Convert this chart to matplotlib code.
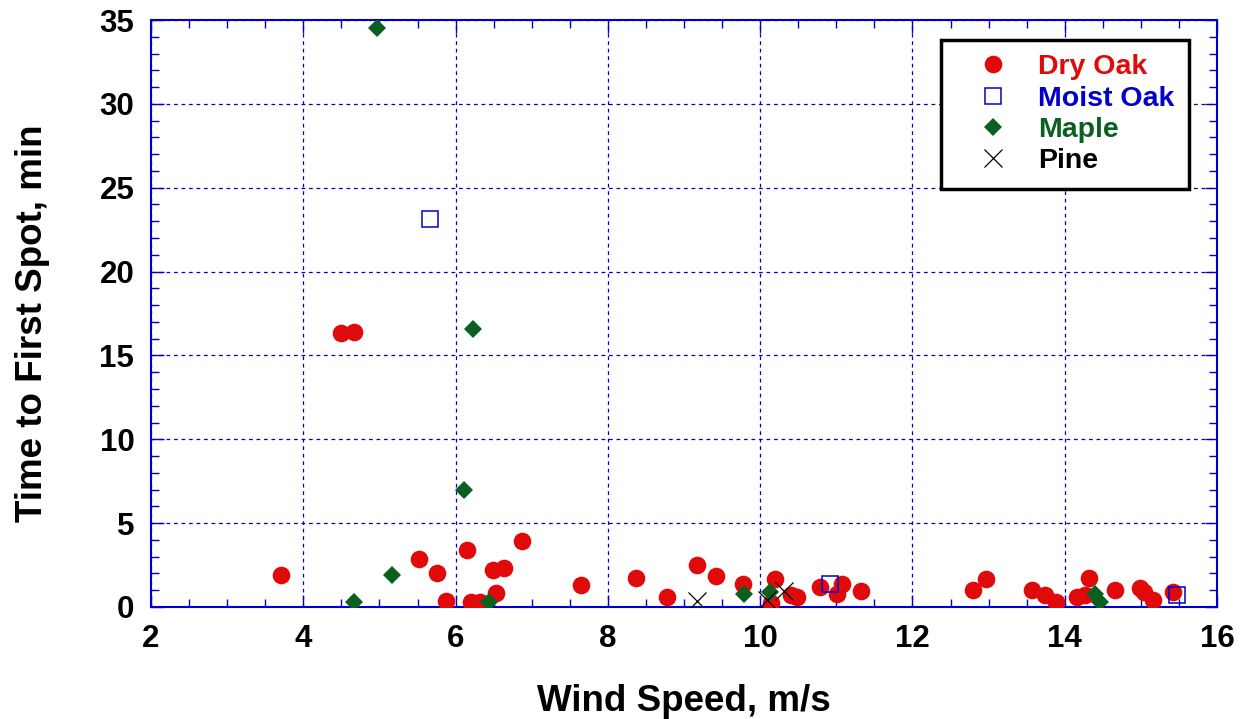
import matplotlib
matplotlib.use("Agg")
import matplotlib.pyplot as plt
from matplotlib.lines import Line2D
from matplotlib.ticker import MultipleLocator

plt.rcParams['font.family'] = ['Liberation Sans', 'DejaVu Sans']

# ---- data ----
dry_oak_x = [3.71, 4.49, 4.66, 5.52, 5.76, 5.87, 6.15, 6.20, 6.32, 6.53, 6.49, 6.63, 6.87,
             7.65, 8.37, 8.78, 9.17, 9.42, 9.77, 10.19, 10.14, 10.40, 10.48, 10.79, 11.07,
             11.01, 11.32, 12.79, 12.97, 13.57, 13.74, 13.88, 14.16, 14.27, 14.32, 14.66,
             14.99, 15.04, 15.16, 15.42]
dry_oak_y = [1.93, 16.34, 16.40, 2.85, 2.05, 0.36, 3.40, 0.30, 0.30, 0.84, 2.20, 2.33, 3.92,
             1.29, 1.73, 0.60, 2.53, 1.85, 1.35, 1.69, 0.24, 0.72, 0.58, 1.19, 1.40,
             0.80, 0.95, 1.04, 1.67, 1.04, 0.70, 0.30, 0.60, 0.70, 1.75, 1.04,
             1.16, 0.90, 0.40, 0.90]
moist_oak_x = [5.66, 10.92, 15.48]
moist_oak_y = [23.13, 1.35, 0.74]
maple_x = [4.97, 6.23, 6.11, 5.17, 4.67, 6.44, 9.79, 10.13, 14.40, 14.46]
maple_y = [34.5, 16.57, 6.96, 1.89, 0.30, 0.30, 0.80, 0.90, 0.80, 0.30]
pine_x = [9.17, 10.09, 10.31]
pine_y = [0.34, 0.44, 0.95]

labels = ["Dry Oak", "Moist Oak", "Maple", "Pine"]
x_ticks = [2, 4, 6, 8, 10, 12, 14, 16]
y_ticks = [0, 5, 10, 15, 20, 25, 30, 35]

RED = "#E00A0A"
BLUE = "#0000CC"
GREEN = "#0B6020"
AXBLUE = "#0000CC"

fig = plt.figure(figsize=(12.43, 7.19), dpi=100)
ax = fig.add_axes([151/1243, 1 - 607/719, 1066/1243, 587/719])

ax.plot(dry_oak_x, dry_oak_y, 'o', ms=12.7, color=RED, mec=RED, mew=0, zorder=3)
ax.plot(moist_oak_x, moist_oak_y, 's', ms=12, mfc='none', mec=BLUE, mew=1.1, zorder=4)
ax.plot(maple_x, maple_y, 'D', ms=8.7, color=GREEN, mec=GREEN, mew=0, zorder=5)
ax.plot(pine_x, pine_y, 'x', ms=12.3, color='black', mew=0.9, zorder=6)

ax.set_xlim(2, 16)
ax.set_ylim(0, 35)
ax.set_xticks(x_ticks)
ax.set_yticks(y_ticks)
ax.set_xticklabels([str(v) for v in x_ticks])
ax.set_yticklabels([str(v) for v in y_ticks])
ax.xaxis.set_minor_locator(MultipleLocator(0.5))
ax.yaxis.set_minor_locator(MultipleLocator(1))

for s in ax.spines.values():
    s.set_color(AXBLUE)
    s.set_linewidth(1.5)

ax.tick_params(which='both', direction='in', top=True, right=True, color=AXBLUE)
ax.tick_params(which='major', length=9, width=1.0, labelsize=22.5, pad=12)
ax.tick_params(which='minor', length=6, width=1.0)
for lab in ax.get_xticklabels() + ax.get_yticklabels():
    lab.set_fontweight('bold')

ax.grid(True, which='major', color=AXBLUE, linestyle=(0, (3, 3)), linewidth=0.9)
ax.set_axisbelow(True)

ax.set_xlabel("Wind Speed, m/s", fontsize=26.5, fontweight='bold', labelpad=22)
ax.set_ylabel("Time to First Spot, min", fontsize=26.5, fontweight='bold')
ax.yaxis.set_label_coords(-0.0947, 0.4838)

handles = [
    Line2D([], [], ls='none', marker='o', ms=12.7, color=RED, mew=0),
    Line2D([], [], ls='none', marker='s', ms=12, mfc='none', mec=BLUE, mew=1.1),
    Line2D([], [], ls='none', marker='D', ms=8.7, color=GREEN, mew=0),
    Line2D([], [], ls='none', marker='x', ms=12.3, color='black', mew=0.9),
]
leg = ax.legend(handles, labels, loc='upper right', bbox_to_anchor=(0.9737, 0.966),
                borderaxespad=0, frameon=True, fancybox=False, framealpha=1,
                edgecolor='black', prop={'size': 20.5, 'weight': 'bold'},
                labelcolor=[RED, BLUE, GREEN, 'black'],
                handletextpad=0.25, labelspacing=0.19, borderpad=0.5, handlelength=2.67)
leg.get_frame().set_linewidth(2.5)
leg.set_zorder(10)

fig.savefig("out.png", dpi=100)
